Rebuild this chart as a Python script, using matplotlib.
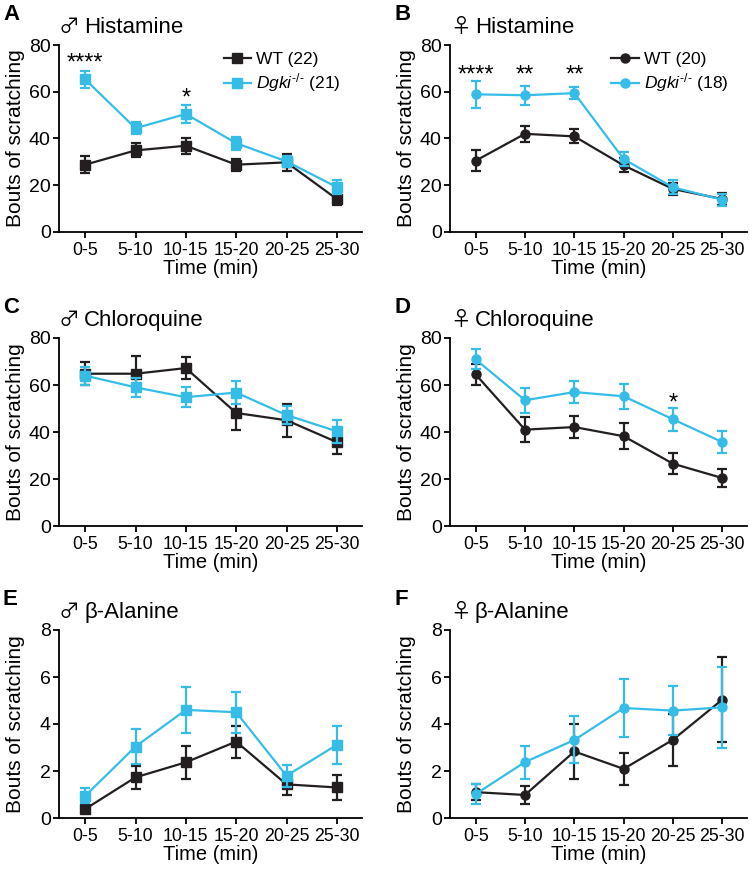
import matplotlib.pyplot as plt
import numpy as np

plt.rcParams['font.family'] = ['Liberation Sans', 'DejaVu Sans']
plt.rcParams['mathtext.fontset'] = 'custom'
plt.rcParams['mathtext.rm'] = 'Liberation Sans'
plt.rcParams['mathtext.it'] = 'Liberation Sans:italic'

times = ['0-5', '5-10', '10-15', '15-20', '20-25', '25-30']

# A: male histamine
a_wt = [28.8, 34.9, 36.9, 28.8, 29.8, 14.1]
a_wt_err = [3.5, 3.0, 3.5, 2.5, 3.5, 2.5]
a_ko = [65.3, 44.4, 50.5, 38.0, 30.2, 19.2]
a_ko_err = [3.5, 2.6, 3.8, 2.8, 2.5, 3.0]

# B: female histamine
b_wt = [30.5, 42.0, 40.9, 28.5, 18.4, 14.1]
b_wt_err = [4.5, 3.5, 3.0, 3.0, 2.5, 2.5]
b_ko = [58.9, 58.5, 59.4, 31.2, 19.1, 13.8]
b_ko_err = [5.8, 4.0, 2.7, 3.0, 3.0, 2.5]

# C: male chloroquine
c_wt = [64.8, 64.8, 67.2, 48.1, 45.0, 35.7]
c_wt_err = [4.8, 7.4, 4.7, 7.4, 7.0, 5.0]
c_ko = [64.0, 59.0, 54.8, 56.8, 47.2, 40.3]
c_ko_err = [3.8, 4.0, 4.3, 5.0, 4.0, 5.0]

# D: female chloroquine
d_wt = [64.5, 41.0, 42.1, 38.2, 26.5, 20.4]
d_wt_err = [4.5, 5.3, 4.5, 5.5, 4.5, 4.0]
d_ko = [70.9, 53.5, 57.0, 55.2, 45.4, 35.7]
d_ko_err = [4.3, 5.4, 4.5, 5.4, 5.0, 4.7]

# E: male beta-alanine
e_wt = [0.38, 1.73, 2.37, 3.25, 1.43, 1.30]
e_wt_err = [0.15, 0.5, 0.7, 0.68, 0.45, 0.55]
e_ko = [0.94, 3.04, 4.6, 4.5, 1.8, 3.11]
e_ko_err = [0.32, 0.75, 0.97, 0.88, 0.46, 0.8]

# F: female beta-alanine
f_wt = [1.1, 0.98, 2.83, 2.09, 3.33, 5.04]
f_wt_err = [0.35, 0.38, 1.18, 0.68, 1.1, 1.8]
f_ko = [1.02, 2.38, 3.32, 4.68, 4.57, 4.71]
f_ko_err = [0.42, 0.7, 1.0, 1.24, 1.04, 1.72]

black = '#231f20'
cyan = '#35bde8'
male, female = '\u2642', '\u2640'

fig = plt.figure(figsize=(7.54, 8.71), dpi=100)

W, H = 754.0, 871.0
def px_axes(left, right, top, bottom):
    return fig.add_axes([left / W, 1 - bottom / H, (right - left) / W, (bottom - top) / H])

panels = [
    # letter, sex, name, wt, wt_err, ko, ko_err, marker, ymax, n_wt, n_ko, stars, box
    ('A', male, 'Histamine', a_wt, a_wt_err, a_ko, a_ko_err, 's', 80, 22, 21,
     [(0, 72, '****'), (2, 57, '*')], (59, 362, 45, 232)),
    ('B', female, 'Histamine', b_wt, b_wt_err, b_ko, b_ko_err, 'o', 80, 20, 18,
     [(0, 67, '****'), (1, 67, '**'), (2, 67, '**')], (450, 747, 45, 232)),
    ('C', male, 'Chloroquine', c_wt, c_wt_err, c_ko, c_ko_err, 's', 80, None, None,
     [], (59, 362, 338, 526)),
    ('D', female, 'Chloroquine', d_wt, d_wt_err, d_ko, d_ko_err, 'o', 80, None, None,
     [(4, 52, '*')], (450, 747, 338, 526)),
    ('E', male, '\u03b2-Alanine', e_wt, e_wt_err, e_ko, e_ko_err, 's', 8, None, None,
     [], (59, 362, 630, 818)),
    ('F', female, '\u03b2-Alanine', f_wt, f_wt_err, f_ko, f_ko_err, 'o', 8, None, None,
     [], (450, 747, 630, 818)),
]

x = np.arange(len(times))
for letter, sex, name, wt, wte, ko, koe, mk, ymax, nwt, nko, stars, box in panels:
    ax = px_axes(*box)
    for vals, errs, col, z, lab in [(wt, wte, black, 3, 'WT (%s)' % nwt),
                                    (ko, koe, cyan, 4, r'$\mathit{Dgki}^{\text{-/-}}$ (%s)' % nko)]:
        ax.errorbar(x, vals, yerr=errs, fmt='none', ecolor=col, capsize=3.5,
                    capthick=1.6, elinewidth=1.6, clip_on=False, zorder=z)
        ax.plot(x, vals, color=col, marker=mk, markersize=6.5, lw=1.6,
                clip_on=False, zorder=z, label=lab)
    ax.set_xlim(-0.52, 5.5)
    ax.set_ylim(0, ymax)
    ax.set_yticks(np.linspace(0, ymax, 5))
    ax.set_xticks(x)
    ax.set_xticklabels(times)
    ax.spines['top'].set_visible(False)
    ax.spines['right'].set_visible(False)
    ax.spines['left'].set_linewidth(1.3)
    ax.spines['bottom'].set_linewidth(1.3)
    ax.tick_params(width=1.3, length=4, direction='out', colors='black')
    ax.tick_params(axis='y', labelsize=14, pad=2)
    ax.tick_params(axis='x', labelsize=12.8, pad=3)
    ax.set_xlabel('Time (min)', fontsize=14.5, labelpad=0)
    ax.set_ylabel('Bouts of scratching', fontsize=15)
    ax.yaxis.set_label_coords(-0.113, 0.5)
    for xi, yv, s in stars:
        ax.text(xi, yv, s, ha='center', va='center', fontsize=17)
    ax.text((box[0] - 56) / W, 1 - (box[2] - 41) / H, letter, transform=fig.transFigure,
            fontsize=16, fontweight='bold', va='top', ha='left')
    ax.text(0.0, 1.064, sex, transform=ax.transAxes, fontsize=15,
            family=['Noto Sans CJK JP', 'DejaVu Sans'], va='baseline', ha='left')
    ax.text(0.083, 1.064, name, transform=ax.transAxes, fontsize=16,
            va='baseline', ha='left')
    if nwt is not None:
        ax.legend(loc='upper left', bbox_to_anchor=(0.52, 1.0), frameon=False,
                  fontsize=12.5, handlelength=1.6, handletextpad=0.3,
                  borderaxespad=0, labelspacing=0.25)

fig.savefig('out.png', dpi=100)
